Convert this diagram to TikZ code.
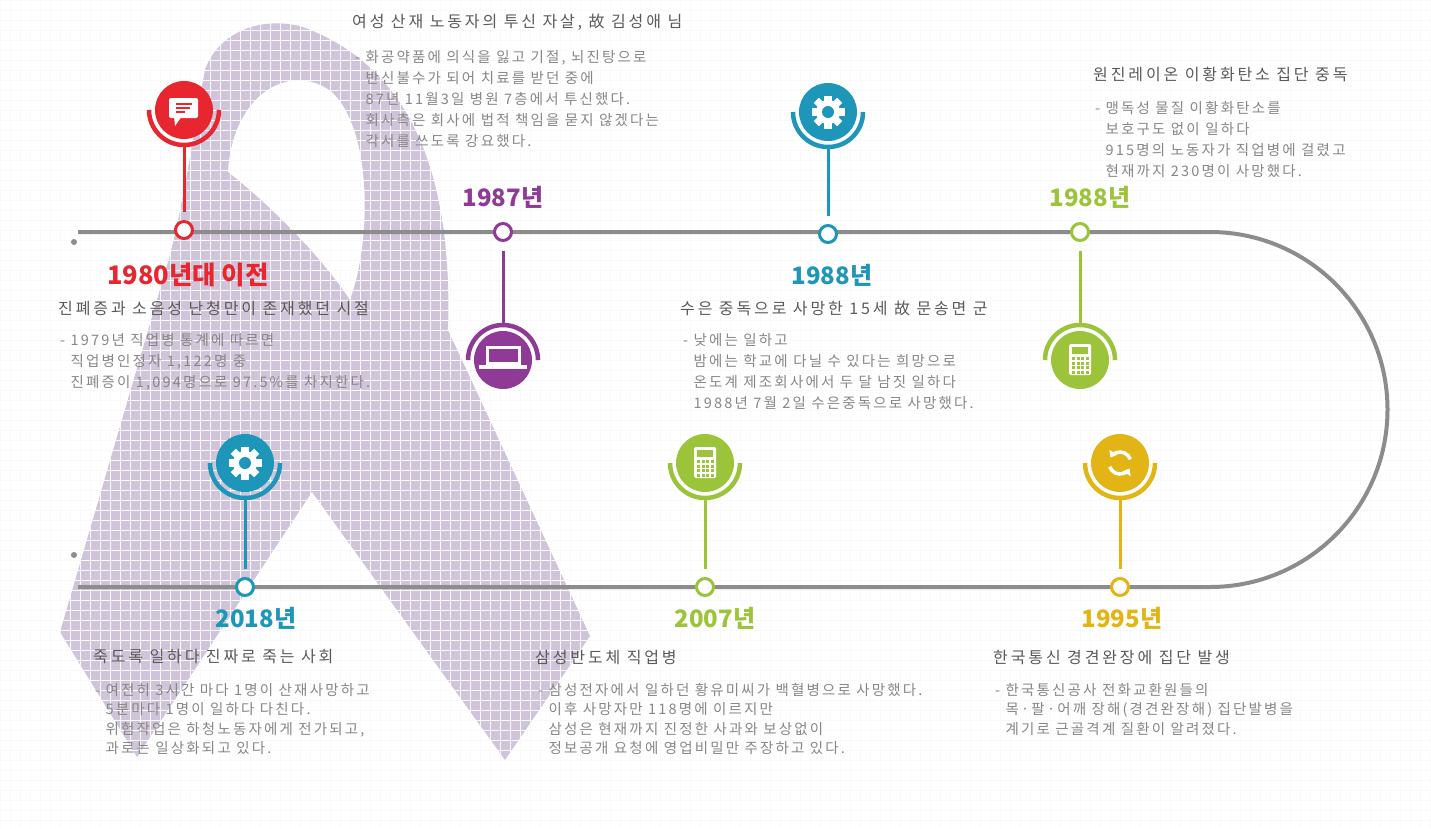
\documentclass[tikz,border=0pt]{standalone}
\usepackage{fontspec}
\setmainfont{Noto Sans CJK KR}
\newfontfamily\ttlfont[LetterSpace=18]{Noto Sans CJK KR}
\newfontfamily\bodyfont[LetterSpace=15]{Noto Sans CJK KR}
\usetikzlibrary{arrows.meta}
\definecolor{tlred}{RGB}{232,38,47}
\definecolor{tlpurple}{RGB}{142,58,150}
\definecolor{tlteal}{RGB}{30,150,186}
\definecolor{tlgreen}{RGB}{156,196,58}
\definecolor{tlyellow}{RGB}{226,180,22}
\definecolor{tlline}{RGB}{140,140,140}
\definecolor{ribbon}{RGB}{208,196,218}
\definecolor{titlegray}{RGB}{90,90,90}
\definecolor{bodygray}{RGB}{135,135,135}

% one timeline stop: marker on the line, icon disc and its half ring
% #1 name, #2 marker position, #3 icon centre, #4 colour, #5 ring start angle
\newcommand\tlstop[5]{%
  \node[marker, draw=#4] (#1m) at (#2) {};
  \node[disc, fill=#4] (#1i) at (#3) {};
  \draw[#4, line width=4.5pt] ([shift={(#5:35pt)}]#3) arc[start angle=#5, delta angle=180, radius=35pt];
  \draw[stem, #4, shorten <=8.5pt, shorten >=6pt] (#1m) -- (#1i);
}

\begin{document}
\begin{tikzpicture}[x=1pt,y=-1pt,
  marker/.style={circle, fill=white, line width=3pt, minimum size=17pt, inner sep=0},
  disc/.style={circle, minimum size=58pt, inner sep=0},
  stem/.style={line width=3pt},
  year/.style={font=\fontsize{24}{28}\selectfont\bfseries, inner sep=0},
  ttl/.style={anchor=west, font=\ttlfont\fontsize{16}{20}\selectfont, text=titlegray, inner sep=0},
  body/.style={anchor=north west, align=left, font=\bodyfont\fontsize{14.5}{21}\selectfont, text=bodygray, inner sep=0},
  bodytight/.style={body, font=\bodyfont\fontsize{14.5}{19.5}\selectfont},
]
\useasboundingbox (0,0) rectangle (1431,828);
\fill[white] (0,0) rectangle (1431,828);

% awareness ribbon
\fill[ribbon, even odd rule]
  (60,632) -- (137,757) -- (312,492) -- (505,760) -- (590,636) -- (448,330)
  .. controls (452,200) and (425,70) .. (300,26)
  .. controls (250,15) and (215,40) .. (205,70)
  .. controls (195,120) and (185,200) .. (168,262) -- cycle
  (228,172) .. controls (232,95) and (290,60) .. (332,92)
  .. controls (372,130) and (372,240) .. (350,300)
  .. controls (320,255) and (270,205) .. (228,172) -- cycle;

% paper texture
\draw[black!2.5, line width=0.5pt] (0,0) grid[step=10pt] (1431,828);

% timeline track
\coordinate (ts) at (78,232);
\coordinate (bs) at (78,587);
\draw[tlline, line width=4pt] (ts) -- (1210,232) arc[start angle=90, end angle=-90, radius=177.5pt] -- (bs);
\fill[tlline] (74,242) circle (3pt);
\fill[tlline] (74,555) circle (3pt);

% stops
\tlstop{a}{184,230}{184,110}{tlred}{180}
\tlstop{b}{503,232}{503,360}{tlpurple}{0}
\tlstop{c}{828,234}{828,112}{tlteal}{180}
\tlstop{d}{1080,232}{1080,360}{tlgreen}{0}
\tlstop{e}{245,587}{245,463}{tlteal}{180}
\tlstop{f}{705,587}{705,463}{tlgreen}{180}
\tlstop{g}{1120,587}{1120,463}{tlyellow}{180}

% speech bubble
\begin{scope}[shift={(ai.center)}]
  \fill[white, rounded corners=2pt] (-15,-12) rectangle (14,8);
  \fill[white] (-10,6) -- (-9,16) -- (-2,6) -- cycle;
  \draw[tlred, line width=1.3pt] (-8,-6) -- (8,-6) (-8,-2) -- (6,-2) (-8,2) -- (1,2);
\end{scope}
% laptop
\begin{scope}[shift={(bi.center)}]
  \draw[white, line width=3pt] (-16,-13) rectangle (16,3);
  \fill[white] (-24,5) rectangle (24,9);
\end{scope}
% gears
\foreach \g in {ci,ei}{
\begin{scope}[shift={(\g.center)}]
  \fill[white] (0,0) circle (12pt);
  \foreach \a in {0,45,...,315}
    \fill[white, rotate=\a] (-3.6,-16.5) rectangle (3.6,-9);
  \fill[tlteal] (0,0) circle (6pt);
\end{scope}}
% calculators
\foreach \k in {di,fi}{
\begin{scope}[shift={(\k.center)}]
  \fill[white, rounded corners=1.5pt] (-11,-16) rectangle (11,15);
  \fill[tlgreen] (-8,-13) rectangle (8,-6);
  \foreach \i in {0,1,2,3}
    \foreach \j in {0,1,2,3}
      \fill[tlgreen] (-8+\i*4.5,-3+\j*4.5) rectangle ++(3,3);
\end{scope}}
% refresh arrows
\begin{scope}[shift={(gi.center)}]
  \draw[white, line width=3.5pt, -{Triangle[length=6pt,width=9pt]}] (20:11pt) arc[start angle=20, end angle=150, radius=11pt];
  \draw[white, line width=3.5pt, -{Triangle[length=6pt,width=9pt]}] (200:11pt) arc[start angle=200, end angle=330, radius=11pt];
\end{scope}

% years
\node[year, text=tlred, font=\fontsize{25.5}{28}\selectfont\bfseries] (y1) at (188,275) {1980년대 이전};
\node[year, text=tlpurple] (y2) at (503,197) {1987년};
\node[year, text=tlteal]   (y3) at (832,275) {1988년};
\node[year, text=tlgreen]  (y4) at (1090,197) {1988년};
\node[year, text=tlteal]   (y5) at (256,618) {2018년};
\node[year, text=tlgreen]  (y6) at (715,618) {2007년};
\node[year, text=tlyellow] (y7) at (1122,618) {1995년};

% stories
\node[ttl] (t1) at (352,22) {여성 산재 노동자의 투신 자살, 故 김성애 님};
\node[body] (b1) at (355,50) {- 화공약품에 의식을 잃고 기절, 뇌진탕으로\\
\phantom{- }반신불수가 되어 치료를 받던 중에\\
\phantom{- }87년 11월3일 병원 7층에서 투신했다.\\
\phantom{- }회사측은 회사에 법적 책임을 묻지 않겠다는\\
\phantom{- }각서를 쓰도록 강요했다.};

\node[ttl] (t2) at (1093,75) {원진레이온 이황화탄소 집단 중독};
\node[body] (b2) at (1095,101) {- 맹독성 물질 이황화탄소를\\
\phantom{- }보호구도 없이 일하다\\
\phantom{- }915명의 노동자가 직업병에 걸렸고\\
\phantom{- }현재까지 230명이 사망했다.};

\node[ttl] (t3) at (58,308) {진폐증과 소음성 난청만이 존재했던 시절};
\node[body] (b3) at (60,333) {- 1979년 직업병 통계에 따르면\\
\phantom{- }직업병인정자 1,122명 중\\
\phantom{- }진폐증이 1,094명으로 97.5\%를 차지한다.};

\node[ttl] (t4) at (680,308) {수은 중독으로 사망한 15세 故 문송면 군};
\node[body] (b4) at (683,333) {- 낮에는 일하고\\
\phantom{- }밤에는 학교에 다닐 수 있다는 희망으로\\
\phantom{- }온도계 제조회사에서 두 달 남짓 일하다\\
\phantom{- }1988년 7월 2일 수은중독으로 사망했다.};

\node[ttl] (t5) at (93,657) {죽도록 일하다 진짜로 죽는 사회};
\node[bodytight] (b5) at (95,683) {- 여전히 3시간 마다 1명이 산재사망하고\\
\phantom{- }5분마다 1명이 일하다 다친다.\\
\phantom{- }위험작업은 하청노동자에게 전가되고,\\
\phantom{- }과로는 일상화되고 있다.};

\node[ttl] (t6) at (535,657) {삼성반도체 직업병};
\node[bodytight] (b6) at (538,683) {- 삼성전자에서 일하던 황유미씨가 백혈병으로 사망했다.\\
\phantom{- }이후 사망자만 118명에 이르지만\\
\phantom{- }삼성은 현재까지 진정한 사과와 보상없이\\
\phantom{- }정보공개 요청에 영업비밀만 주장하고 있다.};

\node[ttl] (t7) at (993,657) {한국통신 경견완장에 집단 발생};
\node[bodytight] (b7) at (995,683) {- 한국통신공사 전화교환원들의\\
\phantom{- }목·팔·어깨 장해(경견완장해) 집단발병을\\
\phantom{- }계기로 근골격계 질환이 알려졌다.};
\end{tikzpicture}
\end{document}
